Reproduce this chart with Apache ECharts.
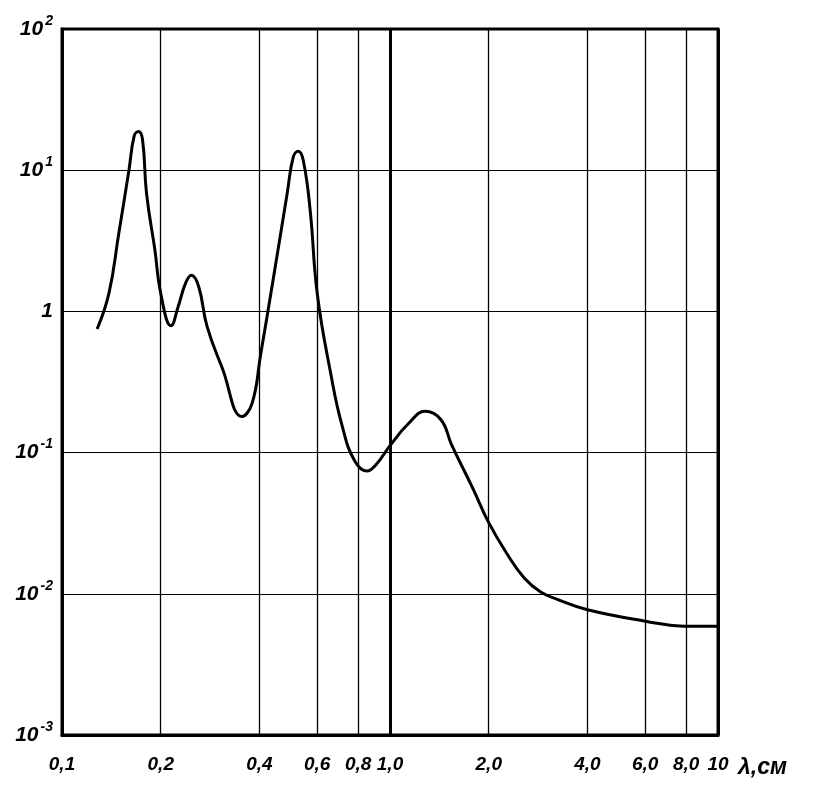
<!DOCTYPE html>
<html>
<head>
<meta charset="utf-8">
<script src="https://cdn.jsdelivr.net/npm/echarts@6/dist/echarts.min.js"></script>
<style>html,body{margin:0;padding:0;background:#fff}#c{width:829px;height:791px}</style>
</head>
<body>
<div id="c"></div>
<script>
// Wavelength, cm
const wavelength = [0.128,0.139,0.149,0.160,0.166,0.171,0.176,0.181,0.192,0.200,0.215,0.226,0.238,0.248,0.261,0.277,0.308,0.354,0.380,0.403,0.440,0.486,0.507,0.525,0.544,0.571,0.600,0.660,0.716,0.780,0.850,0.906,1.00,1.137,1.28,1.43,1.54,1.79,2.00,2.27,2.57,2.88,3.25,4.00,6.00,7.90,10.0];
// Attenuation values
const attenuation = [0.75,1.34,3.57,10.0,17.5,18.8,16.5,6.87,2.71,1.34,0.79,1.08,1.58,1.80,1.50,0.78,0.397,0.18,0.224,0.49,1.66,6.87,12.4,13.6,11.7,5.2,1.34,0.36,0.152,0.0875,0.074,0.082,0.112,0.16,0.196,0.171,0.114,0.0556,0.0319,0.0193,0.0129,0.0103,0.0091,0.0077,0.0064,0.0059,0.0059];
// Vertical grid positions and their labels
const xGridValues = [0.1,0.2,0.4,0.6,0.8,1.0,2.0,4.0,6.0,8.0,10];
const xTickLabels = ['0,1','0,2','0,4','0,6','0,8','1,0','2,0','4,0','6,0','8,0','10'];
// Y tick labels by exponent
const yExponents = [-3,-2,-1,0,1,2];
const yTickLabels = ['10{s|-3}','10{s|-2}','10{s|-1}','1','10{s|1}','10{s|2}'];
const xUnitLabel = 'λ,cм';

const labelFont = {fontFamily:'Liberation Sans', fontStyle:'italic', fontWeight:'bold', fontSize:19, color:'#000'};

const chart = echarts.init(document.getElementById('c'), null, {renderer:'canvas'});
const markData = xGridValues.map((v,i)=>({
  xAxis: v,
  label: Object.assign({show:true, position:'start', distance:20, formatter: xTickLabels[i]}, labelFont),
  lineStyle: {color:'#000', type:'solid', width: (v===1.0 ? 3 : (v===0.1||v===10 ? 3 : 1.3))}
}));
chart.setOption({
  animation:false,
  backgroundColor:'#fff',
  grid:{left:62, right:111, top:29, bottom:56, show:true, borderColor:'#000', borderWidth:3, backgroundColor:'transparent'},
  xAxis:{type:'log', logBase:10, min:0.1, max:10,
    axisLine:{show:true, lineStyle:{color:'#000', width:3}},
    axisTick:{show:false}, axisLabel:{show:false}, splitLine:{show:false}, minorSplitLine:{show:false}},
  yAxis:{type:'log', logBase:10, min:0.001, max:100,
    axisLine:{show:true, lineStyle:{color:'#000', width:3}},
    axisTick:{show:false},
    axisLabel:{show:true, margin:9,
      formatter:function(v){const e=Math.round(Math.log10(v)); const i=yExponents.indexOf(e); return i>=0?yTickLabels[i]:'';},
      fontFamily:'Liberation Sans', fontStyle:'italic', fontWeight:'bold', fontSize:21, color:'#000',
      rich:{s:{fontFamily:'Liberation Sans', fontStyle:'italic', fontWeight:'bold', fontSize:14, color:'#000', padding:[0,0,16,2]}}},
    splitLine:{show:true, lineStyle:{color:'#000', width:1.2}}},
  series:[{
    type:'line', smooth:0.45, showSymbol:false, symbol:'none',
    data: wavelength.map((x,i)=>[x, attenuation[i]]),
    lineStyle:{color:'#000', width:3},
    markLine:{silent:true, symbol:['none','none'], animation:false, data: markData}
  }],
  graphic:[{type:'text', left:738, top:756, style:{text:xUnitLabel, fill:'#000', font:'italic bold 23px "Liberation Sans"'}}]
});
</script>
</body>
</html>
